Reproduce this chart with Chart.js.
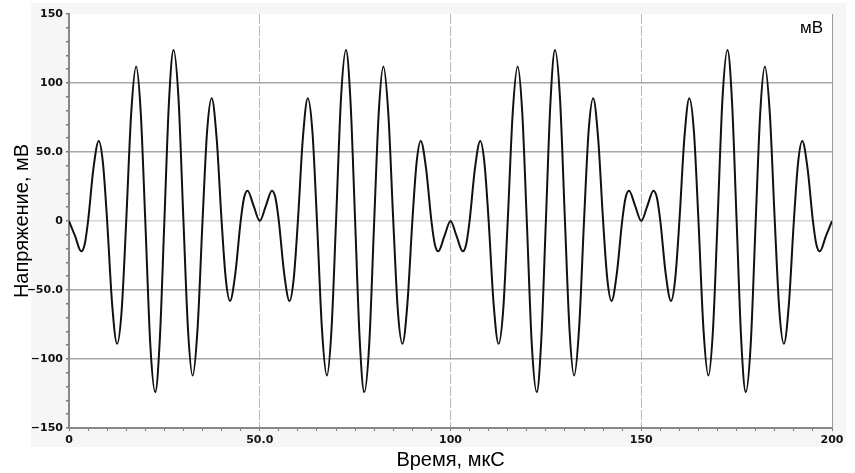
<!DOCTYPE html>
<html>
<head>
<meta charset="utf-8">
<script src="https://cdn.jsdelivr.net/npm/chart.js@4.4.1/dist/chart.umd.min.js"></script>
<style>
html,body{margin:0;padding:0;background:#fff;}
canvas{display:block;}
</style>
</head>
<body>
<canvas id="c" width="855" height="473"></canvas>
<script>
// time, µs
const times = [
  0,1.6,3.2,4.1,5,6.4,7.8,8.9,10,11.3,12.6,13.8,15,16.3,17.6,18.8,20,21.3,22.6,23.8,
  25,26.2,27.4,28.7,30,31.2,32.4,33.7,35,36.2,37.4,38.7,40,41.1,42.2,43.6,45,45.9,46.8,48.4,
  50,51.6,53.2,54.1,55,56.4,57.8,58.9,60,61.3,62.6,63.8,65,66.3,67.6,68.8,70,71.3,72.6,73.8,
  75,76.2,77.4,78.7,80,81.2,82.4,83.7,85,86.2,87.4,88.7,90,91.1,92.2,93.6,95,95.9,96.8,98.4,
  100,101.6,103.2,104.1,105,106.4,107.8,108.9,110,111.3,112.6,113.8,115,116.3,117.6,118.8,120,121.3,122.6,123.8,
  125,126.2,127.4,128.7,130,131.2,132.4,133.7,135,136.2,137.4,138.7,140,141.1,142.2,143.6,145,145.9,146.8,148.4,
  150,151.6,153.2,154.1,155,156.4,157.8,158.9,160,161.3,162.6,163.8,165,166.3,167.6,168.8,170,171.3,172.6,173.8,
  175,176.2,177.4,178.7,180,181.2,182.4,183.7,185,186.2,187.4,188.7,190,191.1,192.2,193.6,195,195.9,196.8,198.4,
  200
];
// voltage, mV
const volts = [
  0,-11,-22,-17,0,38,58,42,0,-60,-89,-65,0,78,112,79,0,-89,-124,-86,
  0,86,124,89,0,-79,-112,-78,0,65,89,60,0,-42,-58,-38,0,17,22,11,
  0,11,22,17,0,-38,-58,-42,0,60,89,65,0,-78,-112,-79,0,89,124,86,
  0,-86,-124,-89,0,79,112,78,0,-65,-89,-60,0,42,58,38,0,-17,-22,-11,
  0,-11,-22,-17,0,38,58,42,0,-60,-89,-65,0,78,112,79,0,-89,-124,-86,
  0,86,124,89,0,-79,-112,-78,0,65,89,60,0,-42,-58,-38,0,17,22,11,
  0,11,22,17,0,-38,-58,-42,0,60,89,65,0,-78,-112,-79,0,89,124,86,
  0,-86,-124,-89,0,79,112,78,0,-65,-89,-60,0,42,58,38,0,-17,-22,-11,
  0
];
const xTickLabels = {0:'0',50:'50.0',100:'100',150:'150',200:'200'};
const yTickLabels = {150:'150',100:'100',50:'50.0',0:'0','-50':'\u221250.0','-100':'\u2212100','-150':'\u2212150'};
const xTitle = 'Время, мкС';
const yTitle = 'Напряжение, мВ';
const unitLabel = 'мВ';

const points = times.map((t, i) => ({x: t, y: volts[i]}));

const bgPlugin = {
  id: 'bg',
  beforeDraw(chart) {
    const {ctx, chartArea: a} = chart;
    ctx.save();
    ctx.fillStyle = '#ffffff';
    ctx.fillRect(0, 0, chart.width, chart.height);
    ctx.fillStyle = '#f6f6f6';
    ctx.fillRect(31, 3, 815, 444);
    ctx.fillStyle = '#ffffff';
    ctx.fillRect(a.left, a.top, a.right - a.left, a.bottom - a.top);
    ctx.restore();
  },
  afterDraw(chart) {
    const {ctx, chartArea: a} = chart;
    ctx.save();
    ctx.strokeStyle = '#9a9a9a';
    ctx.lineWidth = 1;
    ctx.beginPath();
    ctx.moveTo(a.right + 0.5, a.top);
    ctx.lineTo(a.right + 0.5, a.bottom);
    ctx.stroke();
    ctx.fillStyle = '#000';
    ctx.font = '17px "Liberation Sans", Arial, sans-serif';
    ctx.textAlign = 'right';
    ctx.textBaseline = 'alphabetic';
    ctx.fillText(unitLabel, a.right - 9, a.top + 19);
    ctx.restore();
  }
};

new Chart(document.getElementById('c'), {
  type: 'line',
  data: {
    datasets: [{
      data: points,
      borderColor: '#111111',
      borderWidth: 2,
      pointRadius: 0,
      fill: false,
      cubicInterpolationMode: 'monotone'
    }]
  },
  options: {
    responsive: false,
    animation: false,
    events: [],
    layout: {padding: {left: 0, right: 23, top: 14, bottom: 0}},
    plugins: {legend: {display: false}, tooltip: {enabled: false}},
    scales: {
      x: {
        type: 'linear',
        min: 0, max: 200,
        afterFit(s) { s.height = 45; },
        ticks: {
          stepSize: 5,
          autoSkip: false,
          maxRotation: 0,
          padding: 3,
          color: '#111',
          font: {family: '"DejaVu Sans", sans-serif', size: 11, weight: 'bold'},
          callback: (v) => (xTickLabels[v] !== undefined ? xTickLabels[v] : '')
        },
        grid: {
          color: (c) => { const v = c.tick && c.tick.value; return (v === 50 || v === 100 || v === 150) ? '#b8b8b8' : 'rgba(0,0,0,0)'; },
          lineWidth: 1,
          drawTicks: true,
          tickLength: 3,
          tickColor: '#777'
        },
        border: {display: true, color: '#888', width: 2, dash: [10, 2]},
        title: {
          display: true,
          text: xTitle,
          color: '#000',
          font: {family: '"Liberation Sans", Arial, sans-serif', size: 20},
          padding: {top: 0, bottom: 1}
        }
      },
      y: {
        type: 'linear',
        min: -150, max: 150,
        afterFit(s) { s.width = 69; },
        ticks: {
          stepSize: 10,
          autoSkip: false,
          padding: 3,
          color: '#111',
          font: {family: '"DejaVu Sans", sans-serif', size: 11, weight: 'bold'},
          callback: (v) => (yTickLabels[v] !== undefined ? yTickLabels[v] : '')
        },
        grid: {
          color: (c) => {
            const v = c.tick && c.tick.value;
            if (v === 0) return '#d6d6d6';
            if (v === 50 || v === -50 || v === 100 || v === -100) return '#a8a8a8';
            return 'rgba(0,0,0,0)';
          },
          lineWidth: 1.5,
          drawTicks: true,
          tickLength: 3,
          tickColor: '#777'
        },
        border: {display: true, color: '#888', width: 2},
        title: {
          display: true,
          text: yTitle,
          color: '#000',
          font: {family: '"Liberation Sans", Arial, sans-serif', size: 20},
          padding: {top: 10, bottom: 0}
        }
      }
    }
  },
  plugins: [bgPlugin]
});
</script>
</body>
</html>
